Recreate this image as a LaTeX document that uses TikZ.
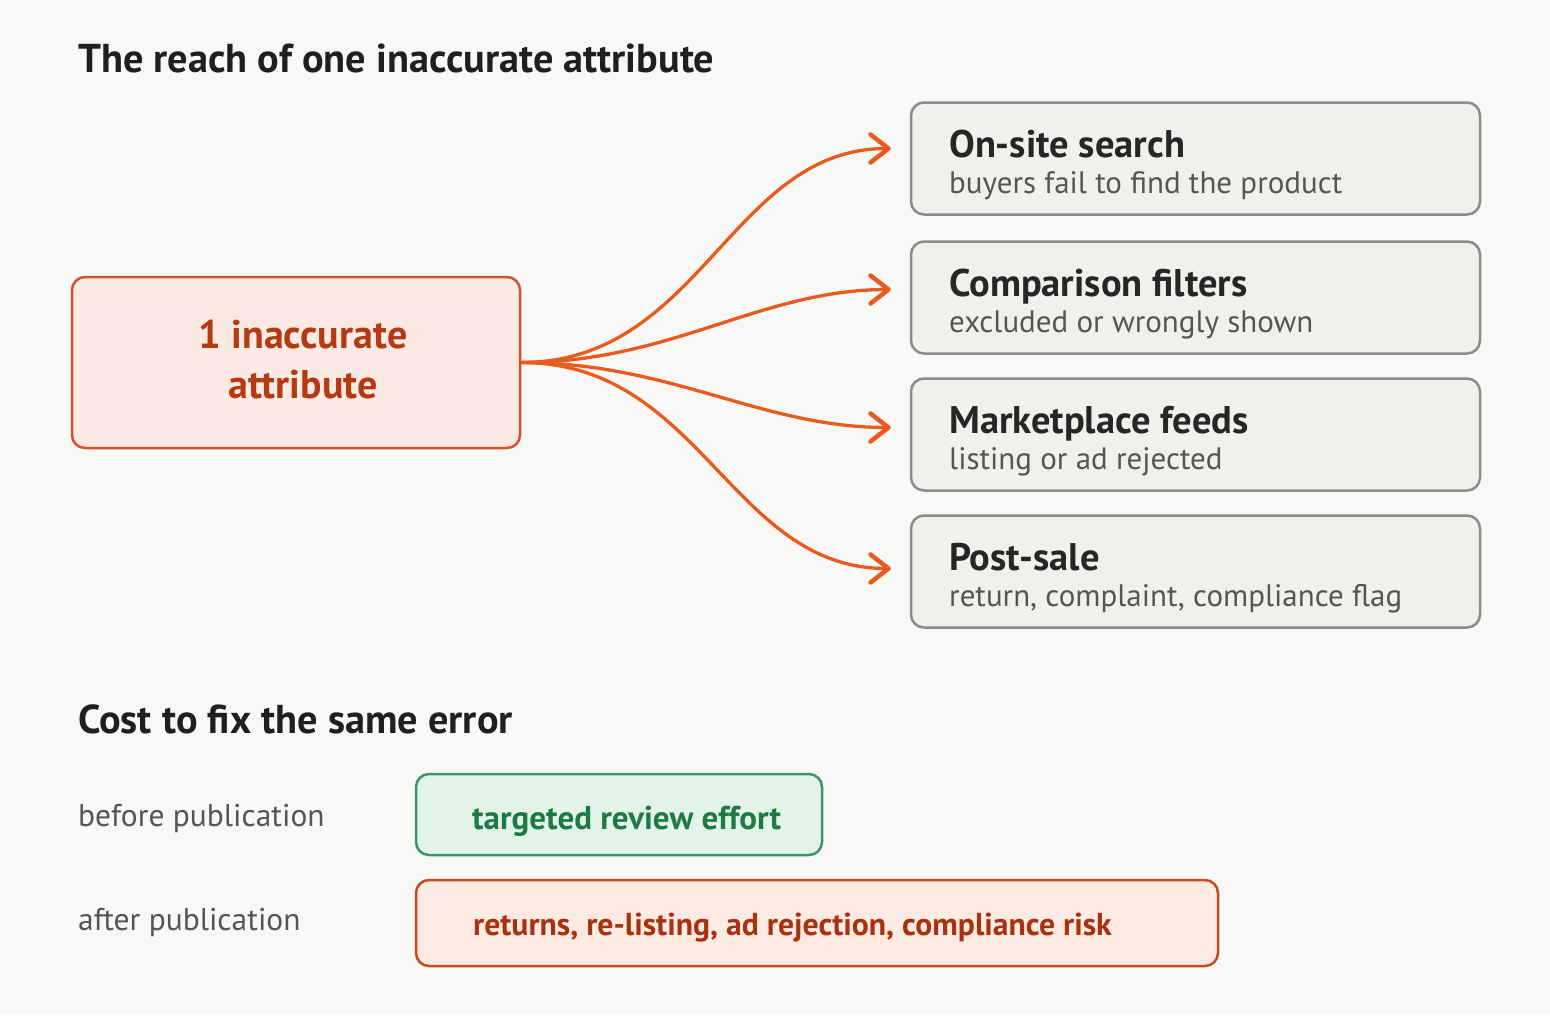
\documentclass[tikz,border=0pt]{standalone}
\usepackage{fontspec}
\setmainfont{PT Sans}
\usetikzlibrary{arrows.meta}
\definecolor{bg}{HTML}{F8F8F6}
\definecolor{mainfill}{HTML}{FBEAE3}
\definecolor{maindraw}{HTML}{D4522A}
\definecolor{maintext}{HTML}{B53A12}
\definecolor{arrowc}{HTML}{E85A1E}
\definecolor{grayfill}{HTML}{F2F0EB}
\definecolor{graydraw}{HTML}{8C8C8A}
\definecolor{headtext}{HTML}{262626}
\definecolor{subtext}{HTML}{555555}
\definecolor{greenfill}{HTML}{E2F3EA}
\definecolor{greendraw}{HTML}{3B9567}
\definecolor{greentext}{HTML}{1E7A45}
\definecolor{redfill}{HTML}{FCEAE3}
\definecolor{reddraw}{HTML}{C84B1F}
\definecolor{redtext}{HTML}{A8320F}
\begin{document}
\begin{tikzpicture}[x=1pt,y=-1pt,
  box/.style={rectangle,rounded corners=13pt,line width=2.5pt,inner sep=0pt},
  effectbox/.style={box,fill=grayfill,draw=graydraw,minimum width=569pt,minimum height=112pt},
  head/.style={anchor=base west,inner sep=0pt,text=headtext,font=\fontsize{38.5}{42}\selectfont\bfseries},
  sub/.style={anchor=base west,inner sep=0pt,text=subtext,font=\fontsize{31}{34}\selectfont},
  sectiontitle/.style={anchor=base west,inner sep=0pt,text=black!88,font=\fontsize{40.3}{44}\selectfont\bfseries},
  rowlabel/.style={anchor=base west,inner sep=0pt,text=subtext,font=\fontsize{31.5}{34}\selectfont},
  flow/.style={arrowc,line width=3.3pt,-{Straight Barb[length=18pt,width=28pt,line width=4.5pt,line cap=round,line join=round]}}
]
\fill[bg] (0,0) rectangle (1550,1015);
\useasboundingbox (0,0) rectangle (1550,1015);

% titles
\node[sectiontitle] (t1) at (78,72) {The reach of one inaccurate attribute};
\node[sectiontitle] (t2) at (78,733) {Cost to fix the same error};

% source
\node[box,fill=mainfill,draw=maindraw,minimum width=448pt,minimum height=171pt] (src) at (296,362.5) {};
\node[inner sep=0pt,align=center,text=maintext,font=\fontsize{40}{50}\selectfont\bfseries] (srct) at (303,360) {1 inaccurate\\attribute};

% effect boxes
\node[effectbox] (b1) at (1195.5,158.5) {};
\node[effectbox] (b2) at (1195.5,297.5) {};
\node[effectbox] (b3) at (1195.5,434.5) {};
\node[effectbox] (b4) at (1195.5,571.5) {};

\node[head] (h1) at (949,157) {On-site search};
\node[sub]  (s1) at (949,193) {buyers fail to find the product};
\node[head] (h2) at (949,296) {Comparison filters};
\node[sub]  (s2) at (949,332) {excluded or wrongly shown};
\node[head] (h3) at (949,433) {Marketplace feeds};
\node[sub]  (s3) at (949,469) {listing or ad rejected};
\node[head] (h4) at (949,570) {Post-sale};
\node[sub]  (s4) at (949,606) {return, complaint, compliance flag};

% arrow ends
\coordinate (e1) at ([xshift=-19pt,yshift=10pt]b1.west);
\coordinate (e2) at ([xshift=-19pt,yshift=8pt]b2.west);
\coordinate (e3) at ([xshift=-19pt,yshift=7pt]b3.west);
\coordinate (e4) at ([xshift=-19pt,yshift=3pt]b4.west);

\draw[flow] (src.east) .. controls +(180,0) and +(-160,0) .. (e1);
\draw[flow] (src.east) .. controls +(150,0) and +(-130,0) .. (e2);
\draw[flow] (src.east) .. controls +(150,0) and +(-130,0) .. (e3);
\draw[flow] (src.east) .. controls +(180,0) and +(-160,0) .. (e4);

% cost rows
\node[rowlabel] (l1) at (78,826) {before publication};
\node[rowlabel] (l2) at (78,930) {after publication};

\node[box,fill=greenfill,draw=greendraw,minimum width=406pt,minimum height=81pt] (g) at (619,814.5) {};
\node[anchor=base west,inner sep=0pt,text=greentext,font=\fontsize{33}{36}\selectfont\bfseries] (gt) at (472,829) {targeted review effort};

\node[box,fill=redfill,draw=reddraw,minimum width=802pt,minimum height=86pt] (r) at (817,923) {};
\node[anchor=base west,inner sep=0pt,text=redtext,font=\fontsize{31.7}{36}\selectfont\bfseries] (rt) at (473,935) {returns, re-listing, ad rejection, compliance risk};
\end{tikzpicture}
\end{document}
